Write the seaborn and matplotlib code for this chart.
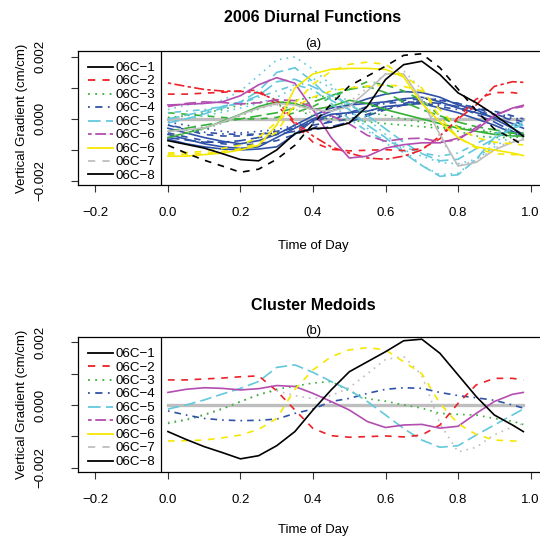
import numpy as np
import pandas as pd
import matplotlib
matplotlib.use("Agg")
import matplotlib.pyplot as plt
from matplotlib.lines import Line2D
import seaborn as sns

plt.rcParams['font.family'] = ['Liberation Sans', 'DejaVu Sans']

# ---------------- data (values in units of 1e-3 cm/cm) ----------------
t = [0, .05, .1, .15, .2, .25, .3, .35, .4, .45, .5, .55, .6, .65, .7, .75, .8, .85, .9, .95, .98]

m1 = [-0.85, -1.10, -1.33, -1.52, -1.72, -1.62, -1.30, -0.85, -0.16, 0.48, 1.06, 1.38, 1.70, 2.05, 2.10, 1.65, 0.96, 0.27, -0.32, -0.64, -0.85]
m2 = [0.80, 0.80, 0.83, 0.86, 0.90, 0.93, 0.45, -0.16, -0.75, -0.98, -1.03, -1.01, -0.99, -1.02, -0.96, -0.64, 0.05, 0.64, 0.85, 0.85, 0.80]
m3 = [-0.59, -0.48, -0.32, -0.13, 0.11, 0.32, 0.50, 0.60, 0.70, 0.75, 0.45, 0.20, 0.12, 0.00, -0.10, -0.27, -0.30, -0.32, -0.43, -0.52, -0.62]
m4 = [-0.19, -0.32, -0.43, -0.48, -0.50, -0.49, -0.45, -0.27, -0.13, 0.11, 0.21, 0.37, 0.50, 0.55, 0.53, 0.40, 0.30, 0.23, 0.15, 0.00, -0.10]
m5 = [-0.13, 0.00, 0.16, 0.35, 0.53, 0.75, 1.20, 1.28, 1.04, 0.75, 0.48, 0.11, -0.32, -0.75, -1.12, -1.35, -1.30, -0.96, -0.64, -0.32, -0.13]
m6 = [0.40, 0.50, 0.55, 0.53, 0.48, 0.52, 0.62, 0.59, 0.37, 0.11, -0.16, -0.53, -0.72, -0.64, -0.62, -0.74, -0.68, -0.27, 0.11, 0.34, 0.40]
m7 = [-1.15, -1.14, -1.12, -1.05, -0.96, -0.78, -0.43, 0.50, 1.12, 1.54, 1.76, 1.83, 1.76, 1.38, 1.00, 0.05, -0.60, -0.94, -1.12, -1.15, -1.15]
m8 = [-0.55, -0.45, -0.30, -0.10, 0.10, 0.35, 0.45, 0.30, 0.20, 0.30, 0.55, 1.00, 1.45, 1.55, 0.95, -0.60, -1.50, -1.35, -0.95, -0.70, -0.60]
zero = [0.0] * 21

black_b = [-0.70, -0.82, -0.94, -1.12, -1.31, -1.35, -1.00, -0.47, -0.31, -0.29, -0.13, 0.41, 1.27, 1.75, 1.86, 1.43, 0.84, 0.52, 0.14, -0.29, -0.56]
red_b = [1.16, 1.05, 0.95, 0.90, 0.89, 0.84, 0.60, -0.10, -0.55, -0.90, -1.10, -1.26, -1.30, -1.20, -1.00, -0.55, 0.00, 0.45, 1.05, 1.20, 1.18]
green_a = [-0.60, -0.45, -0.30, -0.08, 0.15, 0.40, 0.55, 0.50, 0.30, 0.40, 0.60, 0.50, 0.30, 0.15, 0.00, -0.15, -0.30, -0.40, -0.50, -0.55, -0.55]
green_b = [-0.40, -0.30, -0.20, -0.10, 0.00, 0.10, 0.20, 0.35, 0.55, 0.75, 0.95, 1.05, 0.85, 0.55, 0.30, 0.10, -0.10, -0.25, -0.35, -0.45, -0.50]
green_c = [0.20, 0.15, 0.10, 0.05, 0.00, 0.00, 0.05, 0.20, 0.40, 0.70, 0.95, 1.20, 1.10, 0.90, 0.60, 0.10, -0.25, -0.40, -0.45, -0.45, -0.45]
green_d = [0.05, 0.10, 0.20, 0.30, 0.45, 0.55, 0.45, 0.30, 0.10, 0.00, -0.05, -0.10, -0.15, -0.20, -0.25, -0.30, -0.40, -0.55, -0.60, -0.60, -0.58]
blue_1 = [-0.50, -0.65, -0.80, -0.90, -0.95, -0.90, -0.60, -0.30, 0.00, 0.25, 0.45, 0.65, 0.80, 0.88, 0.85, 0.70, 0.45, 0.30, 0.00, -0.30, -0.50]
blue_2 = [-0.30, -0.45, -0.60, -0.72, -0.80, -0.70, -0.50, -0.20, 0.10, 0.35, 0.45, 0.50, 0.55, 0.65, 0.70, 0.55, 0.35, 0.20, 0.05, -0.15, -0.30]
blue_3 = [-0.45, -0.58, -0.70, -0.80, -0.85, -0.80, -0.70, -0.50, -0.30, -0.05, 0.20, 0.40, 0.55, 0.60, 0.65, 0.60, 0.50, 0.35, 0.15, -0.05, -0.20]
blue_4 = [-0.20, -0.35, -0.50, -0.55, -0.55, -0.50, -0.40, -0.30, -0.20, -0.10, 0.00, 0.15, 0.35, 0.50, 0.60, 0.65, 0.50, 0.35, 0.25, 0.10, 0.00]
blue_5 = [-0.10, -0.20, -0.30, -0.40, -0.45, -0.40, -0.35, -0.20, -0.10, 0.05, 0.15, 0.25, 0.35, 0.45, 0.50, 0.45, 0.40, 0.30, 0.20, 0.05, -0.05]
blue_6 = [-0.60, -0.68, -0.75, -0.75, -0.70, -0.60, -0.50, -0.40, -0.35, -0.25, -0.10, 0.10, 0.30, 0.45, 0.55, 0.50, 0.40, 0.15, -0.10, -0.40, -0.55]
blue_7 = [-0.65, -0.80, -0.90, -0.97, -1.00, -0.97, -0.90, -0.50, -0.05, 0.15, 0.20, 0.25, 0.40, 0.45, 0.50, 0.35, 0.20, 0.00, -0.20, -0.45, -0.55]
cyan_1 = [0.30, 0.45, 0.50, 0.60, 0.90, 1.40, 1.90, 2.00, 1.60, 1.10, 0.50, 0.00, -0.50, -1.00, -1.50, -1.80, -1.75, -1.30, -0.80, -0.30, -0.10]
cyan_2 = [0.00, 0.12, 0.25, 0.40, 0.55, 0.90, 1.50, 1.65, 1.20, 0.60, 0.30, -0.20, -0.60, -1.10, -1.50, -1.85, -1.80, -1.30, -0.60, -0.30, -0.20]
cyan_3 = [0.20, 0.25, 0.30, 0.40, 0.50, 0.70, 0.90, 1.10, 0.95, 0.50, 0.00, -0.40, -0.70, -0.90, -1.10, -1.20, -1.10, -0.80, -0.50, -0.20, -0.05]
cyan_4 = [-0.10, 0.00, 0.10, 0.22, 0.35, 0.50, 0.70, 1.00, 1.30, 1.00, 0.30, -0.30, -0.80, -1.00, -1.20, -1.40, -1.45, -1.30, -0.90, -0.55, -0.40]
magenta_b = [0.45, 0.47, 0.50, 0.55, 0.75, 1.10, 1.33, 1.15, 0.30, -0.60, -1.26, -1.20, -0.94, -0.83, -0.77, -0.77, -0.62, -0.35, 0.10, 0.35, 0.44]
yellow_b = [-1.20, -1.20, -1.15, -1.10, -1.00, -0.85, -0.20, 1.00, 1.45, 1.60, 1.63, 1.63, 1.60, 1.35, 0.50, -0.10, -0.60, -0.90, -1.00, -1.10, -1.18]
yellow_c = [-1.10, -1.08, -1.05, -0.95, -0.85, -0.60, -0.10, 0.40, 0.70, 0.90, 1.00, 1.05, 1.10, 1.05, 0.90, 0.30, -0.30, -0.60, -0.75, -0.80, -0.84]
gray_b = [-0.40, -0.35, -0.29, -0.10, 0.14, 0.35, 0.50, 0.45, 0.30, 0.25, 0.40, 0.90, 1.45, 1.45, 0.60, -0.50, -1.52, -1.40, -1.00, -0.75, -0.67]

legend_labels = ["06C\u22121", "06C\u22122", "06C\u22123", "06C\u22124", "06C\u22125",
                 "06C\u22126", "06C\u22126", "06C\u22127", "06C\u22128"]
x_ticks = [-0.2, 0.0, 0.2, 0.4, 0.6, 0.8, 1.0]
y_ticks = [-0.002, -0.001, 0.0, 0.001, 0.002]

# ---------------- styles ----------------
COL = dict(black='#000000', red='#EE2028', green='#35B235', blue='#2F52A8',
           cyan='#62C8DC', magenta='#B34DB0', yellow='#F5E800', gray='#BEBEBE')
LS = dict(solid='-', dashed=(0, (4, 4)), dotted=(0, (1, 3)), dotdash=(0, (1, 3, 4, 3)),
          longdash=(0, (7, 3)), twodash=(0, (2, 2, 6, 2)))

top_series = [
    (zero, 'gray', 'solid', 2.4),
    (blue_1, 'blue', 'solid', 1.2), (blue_2, 'blue', 'solid', 1.2), (blue_3, 'blue', 'dashed', 1.2),
    (blue_4, 'blue', 'dashed', 1.2), (blue_5, 'blue', 'dotted', 1.2), (blue_6, 'blue', 'longdash', 1.2),
    (blue_7, 'blue', 'solid', 1.2), (m4, 'blue', 'dotdash', 1.2),
    (green_a, 'green', 'solid', 1.2), (green_b, 'green', 'longdash', 1.2), (green_c, 'green', 'dashed', 1.2),
    (green_d, 'green', 'dotted', 1.2), (m3, 'green', 'dotted', 1.2),
    (cyan_1, 'cyan', 'dotted', 1.2), (cyan_2, 'cyan', 'longdash', 1.2), (cyan_3, 'cyan', 'dotdash', 1.2),
    (cyan_4, 'cyan', 'dotted', 1.2), (m5, 'cyan', 'longdash', 1.2),
    (red_b, 'red', 'twodash', 1.2), (m2, 'red', 'dashed', 1.2),
    (magenta_b, 'magenta', 'solid', 1.2), (m6, 'magenta', 'longdash', 1.2),
    (gray_b, 'gray', 'solid', 1.2), (m8, 'gray', 'dotted', 1.2),
    (yellow_b, 'yellow', 'solid', 1.2), (yellow_c, 'yellow', 'dashed', 1.2), (m7, 'yellow', 'dashed', 1.2),
    (black_b, 'black', 'solid', 1.2), (m1, 'black', 'dashed', 1.2),
]
bottom_series = [
    (zero, 'gray', 'solid', 2.4),
    (m8, 'gray', 'dotted', 1.2),
    (m3, 'green', 'dotted', 1.2),
    (m4, 'blue', 'dotdash', 1.2),
    (m5, 'cyan', 'longdash', 1.2),
    (m2, 'red', 'dashed', 1.2),
    (m6, 'magenta', 'solid', 1.2),
    (m7, 'yellow', 'dashed', 1.2),
    (m1, 'black', 'solid', 1.2),
]
legend_styles = [('black', 'solid'), ('red', 'dashed'), ('green', 'dotted'), ('blue', 'dotdash'),
                 ('cyan', 'longdash'), ('magenta', 'twodash'), ('yellow', 'solid'), ('gray', 'dashed'),
                 ('black', 'solid')]

W, H = 540, 538
fig = plt.figure(figsize=(W / 100, H / 100), dpi=100)


def px_axes(left, top, right, bottom):
    return fig.add_axes([left / W, 1 - bottom / H, (right - left) / W, (bottom - top) / H])


def draw_panel(ax, series, ylim):
    for vals, c, ls, lw in series:
        df = pd.DataFrame({'t': t, 'v': np.array(vals) * 1e-3})
        sns.lineplot(data=df, x='t', y='v', color=COL[c], linestyle=LS[ls], lw=lw,
                     ax=ax, legend=False, estimator=None, sort=False)
    ax.set_xlim(-0.248, 1.048)
    ax.set_ylim(*ylim)
    ax.set_xticks(x_ticks)
    ax.set_xticklabels([f"{v:.1f}".replace('-', '\u2212') for v in x_ticks])
    ax.set_yticks(y_ticks)
    ax.set_yticklabels([("%.3f" % v).replace('-', '\u2212') if i % 2 == 0 else ''
                        for i, v in enumerate(y_ticks)], rotation=90, va='center')
    ax.set_xlabel('')
    ax.set_ylabel('')
    ax.tick_params(axis='both', direction='out', length=5, width=0.8, labelsize=9.5, color='#333333')
    ax.tick_params(axis='x', pad=11)
    ax.tick_params(axis='y', pad=18)
    for s in ax.spines.values():
        s.set_linewidth(0.9)
        s.set_color('black')
    ax.axvline(-0.0185, color='black', lw=0.9)
    handles = [Line2D([0], [0], color=COL[c], linestyle=LS[ls], lw=1.3) for c, ls in legend_styles]
    ax.legend(handles, legend_labels, loc='upper left', bbox_to_anchor=(0.022, 0.918),
              frameon=False, fontsize=9.6, handlelength=1.85, handletextpad=0.15,
              labelspacing=0.11, borderpad=0, borderaxespad=0, handleheight=0.5)


ax1 = px_axes(78, 51, 548, 185)
draw_panel(ax1, top_series, (-0.00213, 0.00219))
ax2 = px_axes(78, 337, 548, 472)
draw_panel(ax2, bottom_series, (-0.00214, 0.00217))

fig.text(313 / W, 1 - 18 / H, '2006 Diurnal Functions', ha='center', va='center', fontsize=11.5, fontweight='bold')
fig.text(313 / W, 1 - 44 / H, '(a)', ha='center', va='center', fontsize=9.5)
fig.text(313 / W, 1 - 306 / H, 'Cluster Medoids', ha='center', va='center', fontsize=11.5, fontweight='bold')
fig.text(313 / W, 1 - 331 / H, '(b)', ha='center', va='center', fontsize=9.5)
fig.text(313 / W, 1 - 246 / H, 'Time of Day', ha='center', va='center', fontsize=9.5)
fig.text(313 / W, 1 - 530 / H, 'Time of Day', ha='center', va='center', fontsize=9.5)
fig.text(22 / W, 1 - 118 / H, 'Vertical Gradient (cm/cm)', ha='center', va='center', rotation=90, fontsize=9.5)
fig.text(22 / W, 1 - 404 / H, 'Vertical Gradient (cm/cm)', ha='center', va='center', rotation=90, fontsize=9.5)

fig.savefig('out.png', dpi=100)
